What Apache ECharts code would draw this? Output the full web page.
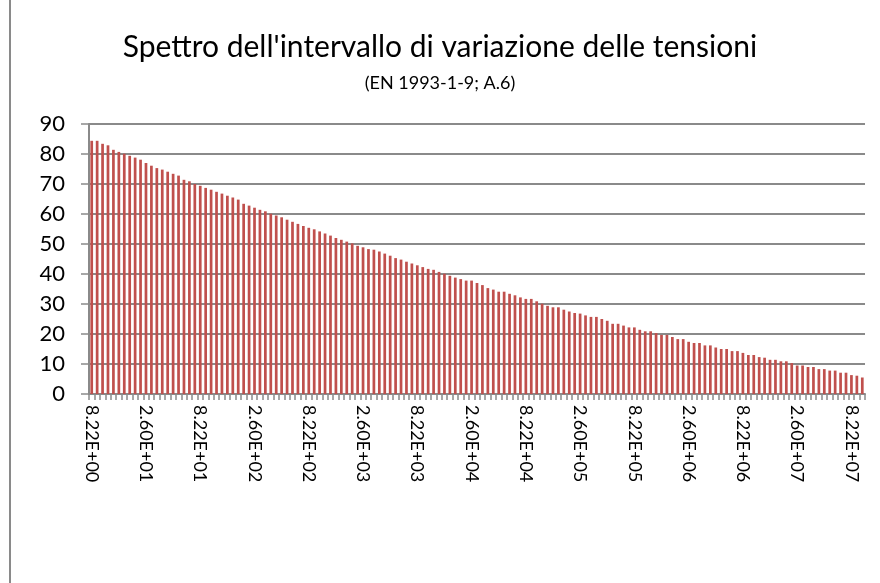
<!DOCTYPE html>
<html>
<head>
<meta charset="utf-8">
<script src="https://cdn.jsdelivr.net/npm/echarts@6/dist/echarts.min.js"></script>
<style>
  html, body { margin: 0; padding: 0; background: #fff; overflow: hidden; }
  #wrap { position: relative; width: 880px; height: 583px; }
  #chart { width: 880px; height: 583px; }
  /* left edge of the chart-area frame */
  #frame { position: absolute; left: 9px; top: 0; width: 1.5px; height: 583px; background: #8a8a8a; }
</style>
</head>
<body>
<div id="wrap">
  <div id="chart"></div>
  <div id="frame"></div>
</div>
<script>
// Stress-range spectrum Delta S/Sk versus number of cycles ni (log-spaced classes)
const tickLabels = [
  '8.22E+00', '2.60E+01', '8.22E+01', '2.60E+02', '8.22E+02',
  '2.60E+03', '8.22E+03', '2.60E+04', '8.22E+04', '2.60E+05',
  '8.22E+05', '2.60E+06', '8.22E+06', '2.60E+07', '8.22E+07'
];

const deltaS = [
  84.4, 84.4, 83.4, 82.9, 81.4, 80.7, 80.1, 79.4, 78.8, 78.1,
  77.0, 76.1, 75.3, 74.8, 74.1, 73.4, 72.8, 71.4, 70.9, 70.0,
  69.4, 68.7, 68.1, 67.4, 66.8, 66.1, 65.5, 64.8, 63.4, 62.8,
  62.1, 61.4, 60.9, 60.1, 59.5, 58.9, 58.1, 57.4, 56.7, 56.0,
  55.4, 54.9, 54.2, 53.5, 52.8, 52.0, 51.4, 50.8, 50.2, 49.4,
  48.9, 48.3, 48.1, 47.5, 46.8, 46.1, 45.3, 44.8, 44.1, 43.5,
  42.9, 42.3, 41.7, 41.4, 40.7, 40.1, 39.4, 38.8, 38.3, 37.8,
  37.8, 37.0, 36.3, 35.3, 34.8, 34.1, 34.1, 33.4, 32.9, 32.2,
  31.7, 31.7, 30.9, 30.1, 29.4, 28.9, 28.9, 28.1, 27.5, 27.0,
  26.8, 26.2, 25.7, 25.7, 25.0, 24.4, 23.4, 23.4, 22.8, 22.2,
  22.2, 21.4, 20.9, 20.9, 20.3, 19.7, 19.7, 19.0, 18.3, 18.3,
  17.4, 17.0, 17.0, 16.2, 16.2, 15.5, 15.0, 15.0, 14.3, 14.3,
  13.7, 13.0, 13.0, 12.3, 12.1, 11.4, 11.4, 10.9, 10.9, 10.3,
  9.5, 9.5, 9.0, 9.0, 8.3, 8.3, 7.8, 7.8, 7.1, 7.1,
  6.3, 6.1, 5.5
];

const seriesName = 'Delta S/Sk - ni';
const classes = deltaS.map((_, i) => String(i + 1));

const font = 'Lato, "Open Sans", sans-serif';
const chart = echarts.init(document.getElementById('chart'), null, { renderer: 'canvas' });

chart.setOption({
  backgroundColor: '#ffffff',
  animation: false,
  title: [{
    text: "Spettro dell'intervallo di variazione delle tensioni",
    left: 'center',
    top: 27,
    textStyle: { fontFamily: font, fontSize: 30, fontWeight: 'normal', color: '#000' }
  }, {
    text: '(EN 1993-1-9; A.6)',
    left: 'center',
    top: 69,
    textStyle: { fontFamily: font, fontSize: 18, fontWeight: 'normal', color: '#000' }
  }],
  grid: { left: 89, right: 15, top: 124, bottom: 189, containLabel: false },
  xAxis: {
    type: 'category',
    data: classes,
    boundaryGap: true,
    axisLine: { lineStyle: { color: '#8a8a8a', width: 2 } },
    axisTick: { show: true, interval: 0, length: 6, lineStyle: { color: '#8a8a8a', width: 1.5 } },
    axisLabel: {
      interval: 9,
      rotate: -90,
      margin: 11,
      fontFamily: font,
      fontSize: 18,
      color: '#000',
      formatter: (v, idx) => tickLabels[Math.round(idx / 10)] || ''
    }
  },
  yAxis: {
    type: 'value',
    min: 0,
    max: 90,
    interval: 10,
    axisLine: { show: true, lineStyle: { color: '#8a8a8a', width: 2 } },
    axisTick: { show: true, length: 8, lineStyle: { color: '#8a8a8a', width: 1.5 } },
    axisLabel: { fontFamily: font, fontSize: 22, color: '#000', margin: 24 },
    splitLine: { lineStyle: { color: '#8a8a8a', width: 2 } }
  },
  series: [{
    name: seriesName,
    type: 'bar',
    data: deltaS,
    barCategoryGap: '50%',
    itemStyle: { color: '#C0504D' }
  }]
});
</script>
</body>
</html>
